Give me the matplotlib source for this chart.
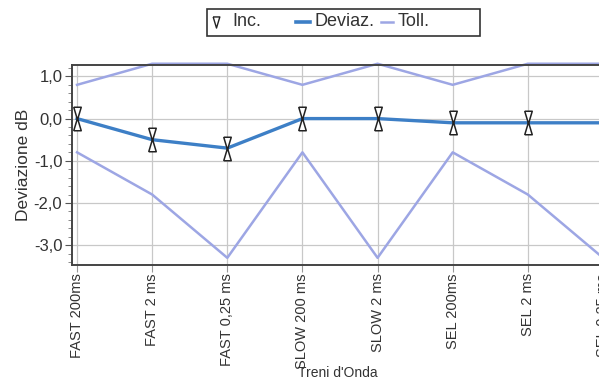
import matplotlib.pyplot as plt
from matplotlib.lines import Line2D
from matplotlib.patches import Rectangle
from matplotlib.ticker import MultipleLocator, FuncFormatter

plt.rcParams['font.family'] = ['Liberation Sans', 'DejaVu Sans']

categorie = ['FAST 200ms', 'FAST 2 ms', 'FAST 0,25 ms', 'SLOW 200 ms',
             'SLOW 2 ms', 'SEL 200ms', 'SEL 2 ms', 'SEL 0,25 ms']
deviazione = [0.0, -0.5, -0.7, 0.0, 0.0, -0.1, -0.1, -0.1]
toll_sup = [0.8, 1.3, 1.3, 0.8, 1.3, 0.8, 1.3, 1.3]
toll_inf = [-0.8, -1.8, -3.3, -0.8, -3.3, -0.8, -1.8, -3.3]
incertezza = [0.13] * len(categorie)

col_dev = '#3d7fc6'
col_toll = '#9da6e4'
col_testo = '#333333'

W, H = 599, 382
fig = plt.figure(figsize=(W / 100, H / 100), dpi=100)
ax = fig.add_axes([72 / W, 1 - 265 / H, 536 / W, 200 / H])

x = list(range(len(categorie)))

ax.plot(x, toll_sup, color=col_toll, lw=1.8, clip_on=False, zorder=2)
ax.plot(x, toll_inf, color=col_toll, lw=1.8, clip_on=False, zorder=2)
ax.plot(x, deviazione, color=col_dev, lw=2.4, zorder=3)

# barre di incertezza disegnate come due triangoli contrapposti
tri_giu = [(-0.6, 1), (0.6, 1), (0, -1), (-0.6, 1)]
tri_su = [(-0.6, -1), (0.6, -1), (0, 1), (-0.6, -1)]
sopra = [d + u for d, u in zip(deviazione, incertezza)]
sotto = [d - u for d, u in zip(deviazione, incertezza)]
ax.plot(x, sopra, ls='none', marker=tri_giu, ms=9, mfc='white', mec='#222222',
        mew=1.1, zorder=4)
ax.plot(x, sotto, ls='none', marker=tri_su, ms=9, mfc='white', mec='#222222',
        mew=1.1, zorder=4)

ax.set_xlim(-0.067, len(categorie) - 1 + 0.067)
ax.set_ylim(-3.47, 1.27)

ax.set_xticks(x)
ax.set_xticklabels(categorie, rotation=90, fontsize=10.5, color=col_testo)
ax.yaxis.set_major_locator(MultipleLocator(1.0))
ax.yaxis.set_minor_locator(MultipleLocator(0.2))
ax.yaxis.set_major_formatter(FuncFormatter(lambda v, p: f'{v:.1f}'.replace('.', ',')))
ax.tick_params(axis='y', labelsize=12, labelcolor=col_testo, length=5, color='#555555', pad=2)
ax.tick_params(axis='y', which='minor', length=3, color='#777777')
ax.tick_params(axis='x', length=5, color='#999999', pad=1)

ax.grid(True, color='#c8c8c8', lw=0.9)
ax.set_axisbelow(True)
for s in ax.spines.values():
    s.set_color('#444444')
    s.set_linewidth(1.4)

ax.set_ylabel('Deviazione dB', fontsize=12.5, color=col_testo, labelpad=2)
fig.text(338 / W, 1 - 373 / H, "Treni d'Onda", fontsize=10, color=col_testo,
         ha='center', va='center')

# legenda costruita a mano dentro un riquadro
ly = 1 - 22 / H
fig.patches.append(Rectangle((207 / W, 1 - 36 / H), 273 / W, 27 / H,
                             transform=fig.transFigure, fill=False,
                             edgecolor='#333333', lw=1.2))
fig.add_artist(Line2D([216 / W], [ly], transform=fig.transFigure, ls='none',
                      marker=tri_giu, ms=8, mfc='white', mec='#222222', mew=1.0))
fig.text(232 / W, ly, 'Inc.', fontsize=13, color=col_testo, va='center')
fig.add_artist(Line2D([296 / W, 310 / W], [ly, ly], transform=fig.transFigure,
                      color=col_dev, lw=2.6))
fig.text(315 / W, ly, 'Deviaz.', fontsize=13, color=col_testo, va='center')
fig.add_artist(Line2D([381 / W, 393 / W], [ly, ly], transform=fig.transFigure,
                      color=col_toll, lw=1.8))
fig.text(398 / W, ly, 'Toll.', fontsize=13, color=col_testo, va='center')

fig.savefig('out.png', dpi=100)
